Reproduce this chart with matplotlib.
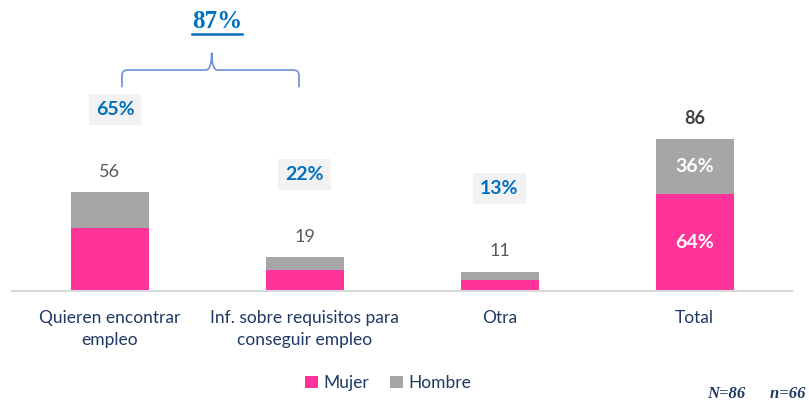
"""Stacked bars: motivos por sexo, with share-of-total labels."""

import matplotlib
matplotlib.use("Agg")
import matplotlib.pyplot as plt
from matplotlib.path import Path
from matplotlib.patches import PathPatch
from matplotlib.lines import Line2D
import numpy as np

categories = ["Quieren encontrar\nempleo", "Inf. sobre requisitos para\nconseguir empleo",
              "Otra", "Total"]
mujer = [36, 12, 6, 55]
hombre = [20, 7, 5, 31]
total_n = 86
sample_text = "N=86      n=66"

PINK = "#ff3399"
GREY = "#a6a6a6"
BLUE = "#0070c0"
NAVY = "#1f3864"

plt.rcParams["font.family"] = ["Lato", "DejaVu Sans"]

fig = plt.figure(figsize=(8.09, 4.03), dpi=100)
ax = fig.add_axes([12 / 809, 112 / 403, 780 / 809, 291 / 403])

x = np.arange(len(categories))
mujer = np.array(mujer)
hombre = np.array(hombre)
totals = mujer + hombre

ax.bar(x, mujer, width=0.4, color=PINK, label="Mujer")
ax.bar(x, hombre, width=0.4, bottom=mujer, color=GREY, label="Hombre")

ax.set_xlim(-0.5, len(categories) - 0.5)
ax.set_ylim(0, 165)
ax.set_yticks([])
ax.set_xticks(x)
ax.set_xticklabels(categories, fontsize=12.5, color=NAVY, linespacing=1.45)
ax.tick_params(axis="x", length=0, pad=14)
for side in ["top", "left", "right"]:
    ax.spines[side].set_visible(False)
ax.spines["bottom"].set_color("#d9d9d9")
ax.spines["bottom"].set_linewidth(1.5)

# totals above the bars
for i, t in enumerate(totals):
    last = i == len(totals) - 1
    ax.text(i, t + 7, str(t), ha="center", va="bottom", fontsize=13,
            color="#404040" if last else "#595959",
            fontweight="bold" if last else "normal")

# share of total, in grey boxes
for i, t in enumerate(totals[:-1]):
    ax.text(i + (0.03 if i == 0 else 0), t + 47, f"{round(100 * t / total_n)}%",
            ha="center", va="center", fontsize=14, fontweight="bold", color=BLUE,
            bbox=dict(boxstyle="square,pad=0.35", fc="#f2f2f2", ec="none"))

# percentages inside the total bar
j = len(totals) - 1
ax.text(j, mujer[j] / 2, f"{round(100 * mujer[j] / totals[j])}%", ha="center",
        va="center", fontsize=14, fontweight="bold", color="white")
ax.text(j, mujer[j] + hombre[j] / 2, f"{round(100 * hombre[j] / totals[j])}%",
        ha="center", va="center", fontsize=14, fontweight="bold", color="white")

# curly bracket over the first two categories
xl, xr, xm = 0.064, 0.972, 0.524
yb, yh, yt = 115.5, 125.3, 135.1
r = 0.03
rv = 3.0
verts = [(xl, yb), (xl, yh - rv), (xl, yh), (xl + r, yh), (xm - r, yh),
         (xm, yh), (xm, yt), (xm, yh), (xm + r, yh), (xr - r, yh),
         (xr, yh), (xr, yh - rv), (xr, yb)]
codes = [Path.MOVETO, Path.LINETO, Path.CURVE3, Path.CURVE3, Path.LINETO,
         Path.CURVE3, Path.CURVE3, Path.CURVE3, Path.CURVE3, Path.LINETO,
         Path.CURVE3, Path.CURVE3, Path.LINETO]
ax.add_patch(PathPatch(Path(verts, codes), fc="none", ec="#6f8fd6", lw=1.2,
                       clip_on=False))

pair_share = round(100 * (totals[0] + totals[1]) / total_n)
top_txt = ax.text(0.55, 152.7, f"{pair_share}%", ha="center", va="center",
                  fontsize=18, fontweight="bold", color=BLUE,
                  family="Liberation Serif")

fig.legend(loc="center", bbox_to_anchor=(388 / 809, 1 - 383 / 403), ncol=2,
           frameon=False, fontsize=12.5, handlelength=0.75, handleheight=0.75,
           handletextpad=0.3, columnspacing=1.2, labelcolor=NAVY)

fig.text(0.996, 1 - 394 / 403, sample_text, ha="right", va="center", fontsize=12,
         color=NAVY, family="Liberation Serif", fontweight="bold", style="italic")

# underline the 87%
fig.canvas.draw()
bb = top_txt.get_window_extent()
inv = fig.transFigure.inverted()
(x0, y0), (x1, _) = inv.transform([(bb.x0, bb.y0 - 1), (bb.x1, bb.y0)])
fig.add_artist(Line2D([x0, x1], [y0, y0], color=BLUE, lw=1.8))

fig.savefig("out.png", dpi=100)
